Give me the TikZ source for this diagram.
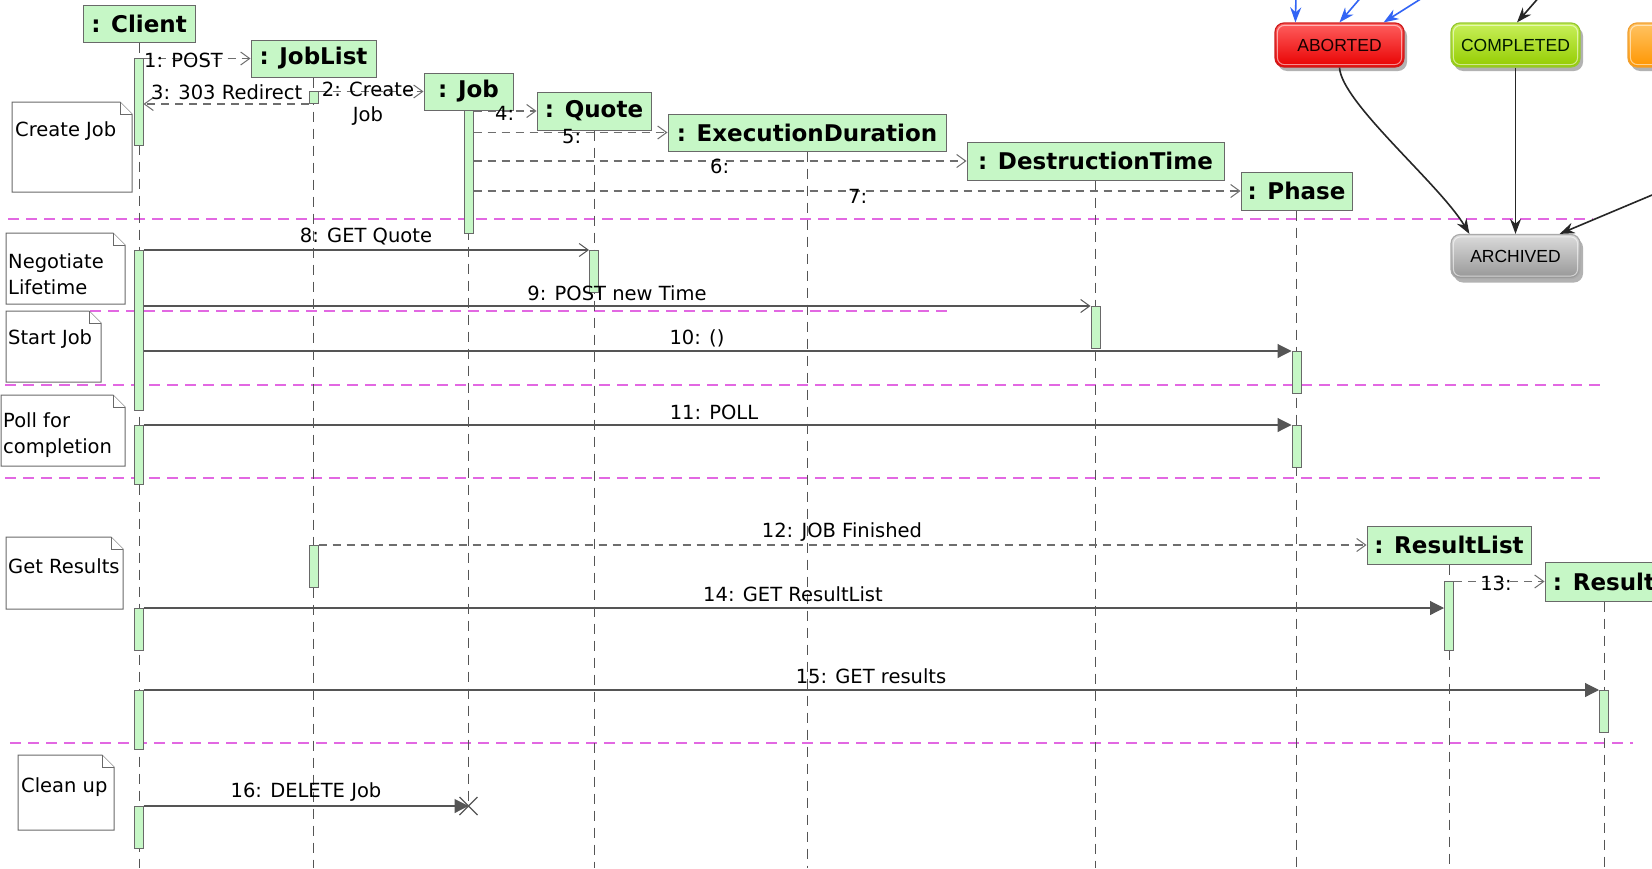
\documentclass[tikz,border=0pt]{standalone}
\usepackage{fontspec}
\setmainfont{DejaVu Sans}
\newfontfamily\statefont{Liberation Sans}
\usetikzlibrary{arrows.meta,shadows}
\definecolor{objgreen}{RGB}{198,247,198}
\definecolor{boxgray}{RGB}{105,105,105}
\definecolor{linegray}{RGB}{85,85,85}
\definecolor{sepmag}{RGB}{226,104,226}
\definecolor{abtop}{RGB}{255,95,95}
\definecolor{abbot}{RGB}{232,0,0}
\definecolor{abdraw}{RGB}{205,30,30}
\definecolor{cotop}{RGB}{200,240,90}
\definecolor{cobot}{RGB}{148,204,0}
\definecolor{codraw}{RGB}{150,200,50}
\definecolor{ortop}{RGB}{255,195,100}
\definecolor{orbot}{RGB}{255,150,0}
\definecolor{ordraw}{RGB}{240,160,50}
\definecolor{artop}{RGB}{220,220,220}
\definecolor{arbot}{RGB}{150,150,150}
\definecolor{ardraw}{RGB}{170,170,170}
\definecolor{arrowblue}{RGB}{50,100,245}
\pgfdeclarelayer{bg}
\pgfsetlayers{bg,main}
\newcommand{\mynote}[5]{%
  \node[notefr, minimum width=#4, minimum height=#5, anchor=north west] (#1) at (#2,#3) {};
  \filldraw[notel] (#1.north west) -- ([xshift=-12pt]#1.north east) -- ([yshift=-12pt]#1.north east) -- (#1.south east) -- (#1.south west) -- cycle;
  \draw[notel] ([xshift=-12pt]#1.north east) |- ([yshift=-12pt]#1.north east);
}
\begin{document}
\begin{tikzpicture}[x=1pt,y=-1pt,
  obj/.style={draw=boxgray, fill=objgreen, line width=1pt, inner sep=0pt, font=\fontsize{23}{27}\selectfont\bfseries},
  bar/.style={draw=boxgray, fill=objgreen, line width=1pt, minimum width=9pt, inner sep=0pt, anchor=north},
  life/.style={draw=linegray, line width=1pt, dash pattern=on 10pt off 7pt},
  msg/.style={draw=linegray, line width=1.1pt},
  dmsg/.style={msg, draw=linegray!85, dash pattern=on 8pt off 6pt},
  ohead/.style={-{Straight Barb[length=9pt,width=13pt,line width=1pt]}},
  fhead/.style={-{Triangle[length=14pt,width=14pt]}, fill=linegray!80!black},
  lbl/.style={font=\fontsize{19.5}{25}\selectfont, inner sep=0pt, text=black},
  ntxt/.style={font=\fontsize{19.5}{26}\selectfont, inner sep=0pt, text=black, align=left, anchor=west},
  sep/.style={draw=sepmag, line width=1.2pt, dash pattern=on 11pt off 7pt},
  notefr/.style={inner sep=0pt, outer sep=0pt, draw=none},
  notel/.style={draw=boxgray, fill=white, line width=1pt},
  st/.style={rounded corners=9pt, minimum width=129pt, minimum height=44pt, inner sep=0pt, line width=1.2pt,
     font=\statefont\fontsize{17.5}{20}\selectfont,
     drop shadow={shadow xshift=3pt, shadow yshift=-4pt, opacity=0.3, fill=black}},
  sarrow/.style={draw=black!85, line width=1.6pt, -{Stealth[length=15pt,width=11pt]}},
  barrow/.style={draw=arrowblue, line width=1.6pt, -{Stealth[length=15pt,width=11pt]}}
]
\useasboundingbox (0,0) rectangle (1652,868);
\clip (0,0) rectangle (1652,868);
\coordinate (bot) at (0,868);

% ---------- objects ----------
\node[obj, minimum width=112pt, minimum height=37pt] (client) at (139,23.5) {: Client};
\node[obj, minimum width=125pt, minimum height=37pt] (joblist) at (313.5,58.5) {: JobList};
\node[obj, minimum width=89pt, minimum height=37pt] (job) at (468.5,91.5) {: Job};
\node[obj, minimum width=114pt, minimum height=38pt] (quote) at (594,111) {: Quote};
\node[obj, minimum width=278pt, minimum height=37pt] (exec) at (807,132.5) {: ExecutionDuration};
\node[obj, minimum width=257pt, minimum height=38pt] (dest) at (1095.5,161) {: DestructionTime};
\node[obj, minimum width=111pt, minimum height=38pt] (phase) at (1296.5,191) {: Phase};
\node[obj, minimum width=164pt, minimum height=38pt] (rlist) at (1449,545) {: ResultList};
\node[obj, minimum width=118pt, minimum height=39pt] (res) at (1604,581.5) {: Result};

% ---------- activation bars ----------
\node[bar, minimum height=87pt] (cb1) at (138.5,58) {};
\node[bar, minimum height=12pt] (jlb1) at (313.5,91) {};
\node[bar, minimum height=123pt] (jb) at (468.5,110) {};
\node[bar, minimum height=160pt] (cb2) at (138.5,250) {};
\node[bar, minimum height=42pt] (qb) at (594,250) {};
\node[bar, minimum height=42pt] (db) at (1095.5,306) {};
\node[bar, minimum height=42pt] (pb1) at (1296.5,351) {};
\node[bar, minimum height=59pt] (cb3) at (138.5,425) {};
\node[bar, minimum height=42pt] (pb2) at (1296.5,425) {};
\node[bar, minimum height=42pt] (jlb2) at (313.5,545) {};
\node[bar, minimum height=42pt] (cb4) at (138.5,608) {};
\node[bar, minimum height=69pt] (rlb) at (1449,581) {};
\node[bar, minimum height=59pt] (cb5) at (138.5,690) {};
\node[bar, minimum height=42pt] (resb) at (1604,690) {};
\node[bar, minimum height=42pt] (cb6) at (138.5,806) {};
\coordinate (xd) at (job.south |- cb6.north);

% ---------- background, separators and lifelines ----------
\begin{pgfonlayer}{bg}
\fill[white] (0,0) rectangle (1652,868);
\draw[sep] (8,219) -- (1593,219);
\draw[sep] (90,311) -- (954,311);
\draw[sep] (5,385) -- (1601,385);
\draw[sep] (5,478) -- (1604,478);
\draw[sep] (10,743) -- (1633,743);
\draw[life] (client.south) -- (client.south |- bot);
\draw[life] (joblist.south) -- (joblist.south |- bot);
\draw[life] (job.south) -- (xd);
\draw[life] (quote.south) -- (quote.south |- bot);
\draw[life] (exec.south) -- (exec.south |- bot);
\draw[life] (dest.south) -- (dest.south |- bot);
\draw[life] (phase.south) -- (phase.south |- bot);
\draw[life] (rlist.south) -- (rlist.south |- bot);
\draw[life] (res.south) -- (res.south |- bot);
\end{pgfonlayer}

% ---------- messages ----------
\draw[dmsg, ohead] (cb1.east |- joblist.west) -- (joblist.west);
\draw[dmsg, ohead] (jlb1.east |- job.west) -- (job.west);
\draw[dmsg, ohead] (jlb1.south west) -- (cb1.east |- jlb1.south west);
\draw[dmsg, ohead] (jb.east |- quote.west) -- (quote.west);
\draw[dmsg, ohead] (jb.east |- exec.west) -- (exec.west);
\draw[dmsg, ohead] (jb.east |- dest.west) -- (dest.west);
\draw[dmsg, ohead] (jb.east |- phase.west) -- (phase.west);
\draw[msg, ohead] (cb2.north east) -- (qb.north west);
\draw[msg, ohead] (cb2.east |- db.north) -- (db.north west);
\draw[msg, fhead] (cb2.east |- pb1.north) -- (pb1.north west);
\draw[msg, fhead] (cb3.north east) -- (pb2.north west);
\draw[dmsg, ohead] (jlb2.east |- rlist.west) -- (rlist.west);
\draw[dmsg, ohead] (rlb.east |- res.west) -- (res.west);
\draw[msg, fhead] (cb4.north east) -- (rlb.west |- cb4.north);
\draw[msg, fhead] (cb5.north east) -- (resb.north west);
\draw[msg, fhead] (cb6.north east) -- (xd);
\draw[linegray, line width=1.3pt] ([shift={(-9pt,-9pt)}]xd) -- ([shift={(9pt,9pt)}]xd)
  ([shift={(-9pt,9pt)}]xd) -- ([shift={(9pt,-9pt)}]xd);

% ---------- message labels ----------
\node[lbl, anchor=west] (l1) at (144,60) {1: POST};
\node[lbl, align=center] (l2) at (368,103.5) {2: Create\\Job};
\node[lbl, anchor=west] (l3) at (151,92) {3: 303 Redirect};
\node[lbl, anchor=west] (l4) at (495,113) {4:};
\node[lbl, anchor=west] (l5) at (562,137) {5:};
\node[lbl, anchor=west] (l6) at (710,166) {6:};
\node[lbl, anchor=west] (l7) at (848,196) {7:};
\node[lbl] (l8) at (366,237) {8: GET Quote};
\node[lbl] (l9) at (617,293) {9: POST new Time};
\node[lbl] (l10) at (697,338) {10: ()};
\node[lbl] (l11) at (714,412) {11: POLL};
\node[lbl] (l12) at (842,532) {12: JOB Finished};
\node[lbl] (l13) at (1496,583) {13:};
\node[lbl] (l14) at (793,594) {14: GET ResultList};
\node[lbl] (l15) at (871,676) {15: GET results};
\node[lbl] (l16) at (306,792) {16: DELETE Job};

% ---------- notes ----------
\mynote{n1}{12}{102}{120pt}{90pt}
\node[ntxt] (t1) at (15,131) {Create Job};
\mynote{n2}{6}{233}{119pt}{71pt}
\node[ntxt] (t2) at (8,274) {Negotiate\\Lifetime};
\mynote{n3}{6}{311}{95pt}{71pt}
\node[ntxt] (t3) at (8,339) {Start Job};
\mynote{n4}{1}{395}{124pt}{71pt}
\node[ntxt] (t4) at (3,435) {Poll for\\completion};
\mynote{n5}{6}{537}{117pt}{72pt}
\node[ntxt] (t5) at (8,566) {Get Results};
\mynote{n6}{18}{755}{96pt}{75pt}
\node[ntxt] (t6) at (21,787) {Clean up};

% ---------- state diagram fragment ----------
\coordinate (bt1) at (1296,-5);
\coordinate (bt2) at (1363,-5);
\coordinate (bt3) at (1427,-5);
\coordinate (kt1) at (1541,-5);
\coordinate (rin) at (1664,190);
\node[st, top color=abtop, bottom color=abbot, draw=abdraw, text=black!90!red] (aborted) at (1339.5,45) {ABORTED};
\node[st, top color=cotop, bottom color=cobot, draw=codraw, text=black!90!green] (completed) at (1515.5,45) {COMPLETED};
\node[st, top color=ortop, bottom color=orbot, draw=ordraw] (orange) at (1692.5,45) {};
\node[st, top color=artop, bottom color=arbot, draw=ardraw, text=black] (archived) at (1515.5,256.5) {ARCHIVED};
\foreach \n in {aborted,completed,orange,archived}{
  \draw[white, opacity=0.55, line width=1pt, rounded corners=7pt]
    ([shift={(3pt,-3pt)}]\n.north west) rectangle ([shift={(-3pt,3pt)}]\n.south east);
}
\draw[barrow] (bt1) -- ([xshift=21pt]aborted.north west);
\draw[barrow] (bt2) -- (aborted.north);
\draw[barrow] (bt3) -- ([xshift=-21pt]aborted.north east);
\draw[sarrow] (kt1) -- ([xshift=1.5pt]completed.north);
\draw[sarrow] (aborted.south) .. controls +(2,35) and +(-30,-50) .. ([xshift=19pt]archived.north west);
\draw[sarrow] (completed.south) -- (archived.north);
\draw[sarrow] (rin) -- ([xshift=-21pt]archived.north east);
\end{tikzpicture}
\end{document}
